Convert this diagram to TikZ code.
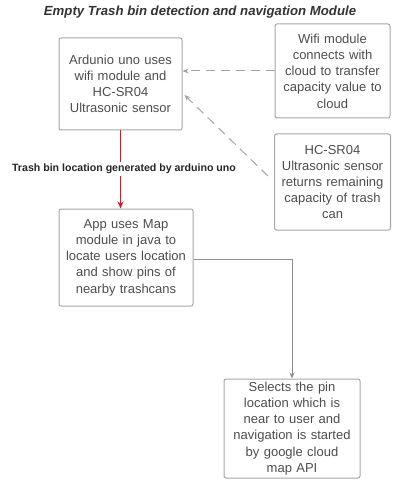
\documentclass[tikz,border=0pt]{standalone}
\usepackage{fontspec}
\setmainfont{Liberation Sans}
\usetikzlibrary{arrows.meta,calc}
\definecolor{txt}{HTML}{4D4D4D}
\definecolor{bord}{HTML}{A6A6A6}
\definecolor{conn}{HTML}{8C8C8C}
\definecolor{redc}{HTML}{C8202A}
\begin{document}
\begin{tikzpicture}[x=1pt,y=1pt,
  box/.style={draw=bord,line width=1pt,rounded corners=2pt,align=center,text=txt,
    font=\fontsize{13}{16.2}\selectfont,inner sep=1pt},
  dconn/.style={draw=conn!80,line width=1pt,dash pattern=on 9pt off 6pt,-{Stealth[length=6pt,width=5pt]}},
  sconn/.style={draw=conn,line width=1pt,-{Stealth[length=6pt,width=5pt]}},
  rconn/.style={draw=redc,line width=1.2pt}]
\useasboundingbox (0,0) rectangle (392,-481);
\node[font=\fontsize{13.2}{15}\selectfont\bfseries\itshape,text=black!80] (T) at (200,-12) {Empty Trash bin detection and navigation Module};
\node[box,minimum width=123,minimum height=92,text width=121] (A) at (120.5,-84) {Ardunio uno uses\\wifi module and\\HC-SR04\\Ultrasonic sensor};
\node[box,minimum width=115,minimum height=94,text width=113] (W) at (332.5,-71) {Wifi module\\connects with\\cloud to transfer\\capacity value to\\cloud};
\node[box,minimum width=116,minimum height=96,text width=114] (H) at (332.5,-182) {HC-SR04\\Ultrasonic sensor\\returns remaining\\capacity of trash\\can};
\node[box,minimum width=134,minimum height=97,text width=132] (P) at (126,-257.5) {App uses Map\\module in java to\\locate users location\\and show pins of\\nearby trashcans};
\node[box,minimum width=136,minimum height=99,text width=134] (S) at (292,-428.5) {Selects the pin\\location which is\\near to user and\\navigation is started\\by google cloud\\map API};
\node[font=\fontsize{10.6}{12}\selectfont\bfseries,text=black!85,inner sep=2pt] (L) at (124,-169) {Trash bin location generated by arduino uno};
\draw[dconn] (W.west) -- (W.west -| A.east);
\draw[dconn] ($(H.west)+(-6,6)$) -- ($(A.east)+(2,-11)$);
\draw[rconn] (A.south) -- (A.south |- L.north);
\draw[rconn,-{Stealth[length=7pt,width=6pt]}] (A.south |- L.south) -- (A.south |- P.north);
\draw[sconn] ($(P.east)+(0,-1.5)$) -| (S.north);
\end{tikzpicture}
\end{document}
